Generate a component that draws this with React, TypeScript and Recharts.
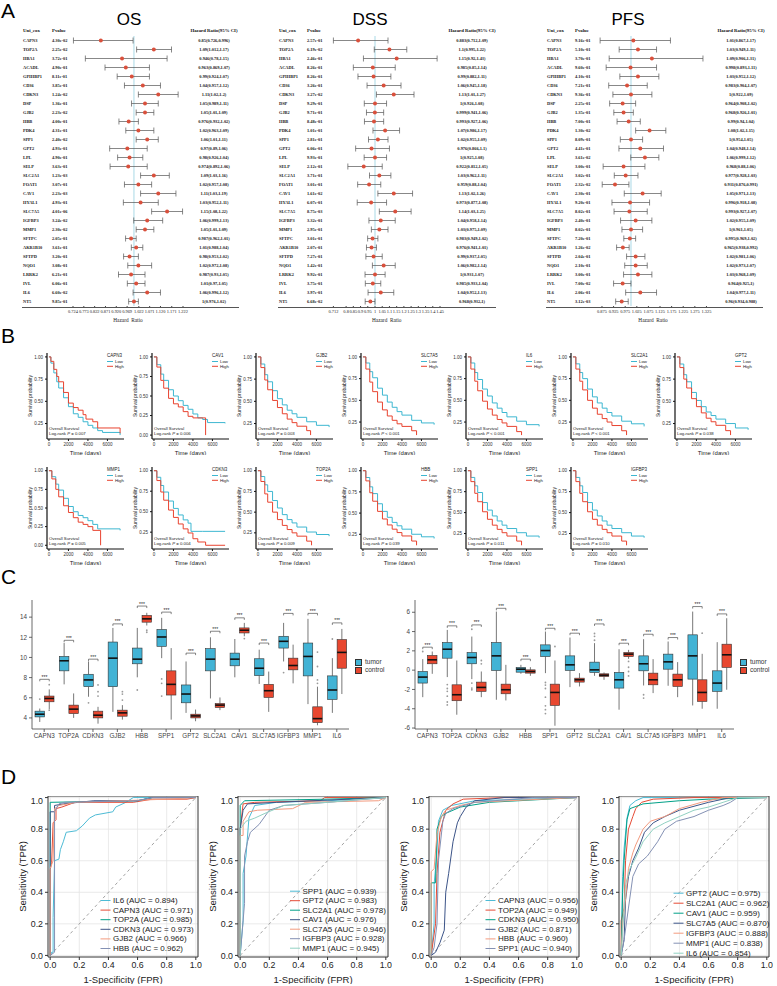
import {
  ComposedChart, LineChart, BarChart, Line, Bar, XAxis, YAxis, CartesianGrid,
  ReferenceLine, ReferenceArea, ErrorBar,
} from "recharts"

const SERIF = "'Liberation Serif', 'Times New Roman', serif"
const SANS = "'Liberation Sans', Arial, Helvetica, sans-serif"
const LOW_C = "#3db7d1"
const HIGH_C = "#e8432f"
const TUMOR_C = "#42b3d5"
const CONTROL_C = "#e8472f"
const NPG = ["#4dbbd5", "#e64b35", "#00a087", "#3c5488", "#f39b7f", "#8491b4", "#91d1c2"]

// ---------- A: forest plots ----------
const forestGenes = ["CAPN3", "TOP2A", "HBA1", "ACADL", "GPIHBP1", "CD36", "CDKN3", "DSP", "GJB2", "HBB", "PDK4", "SPP1", "GPT2", "LPL", "SELP", "SLC2A1", "FOAT1", "CAV1", "HYAL1", "SLC7A5", "IGFBP3", "MMP1", "SFTPC", "AKR1B10", "SFTPD", "NQO1", "LRRK2", "IVL", "IL6", "NT5"]

const osP = ["4.30e-02", "2.25e-02", "3.72e-01", "4.90e-01", "8.11e-01", "3.85e-01", "1.24e-02", "1.36e-01", "2.23e-02", "4.00e-01", "4.31e-01", "2.40e-02", "4.93e-01", "4.90e-01", "3.63e-01", "1.23e-03", "3.07e-01", "2.23e-03", "4.93e-01", "4.01e-06", "3.24e-02", "2.30e-02", "2.05e-01", "3.61e-01", "3.20e-01", "3.08e-01", "6.21e-01", "6.06e-01", "6.60e-02", "9.85e-01"]
const osHR = [0.85, 1.09, 0.946, 0.963, 0.99, 1.04, 1.11, 1.05, 1.05, 0.976, 1.02, 1.06, 0.97, 0.98, 0.974, 1.09, 1.02, 1.11, 1.03, 1.15, 1.06, 1.05, 0.987, 1.01, 0.98, 1.02, 0.987, 1.01, 1.06, 1]
const osLo = [0.726, 1.012, 0.78, 0.869, 0.924, 0.957, 1.02, 0.989, 1.01, 0.932, 0.963, 1.01, 0.89, 0.926, 0.892, 1.03, 0.957, 1.03, 0.952, 1.08, 0.999, 1.01, 0.962, 0.988, 0.953, 0.972, 0.93, 0.97, 0.996, 0.976]
const osHi = [0.996, 1.17, 1.15, 1.07, 1.07, 1.12, 1.2, 1.11, 1.09, 1.02, 1.09, 1.11, 1.06, 1.04, 1.06, 1.16, 1.08, 1.19, 1.11, 1.22, 1.13, 1.09, 1.01, 1.04, 1.02, 1.08, 1.05, 1.05, 1.12, 1.02]
const osTicks = [0.724, 0.773, 0.822, 0.871, 0.92, 0.969, 1.022, 1.071, 1.12, 1.171, 1.222]

const dssP = ["2.57e-01", "6.19e-02", "2.46e-01", "8.26e-01", "8.26e-01", "3.26e-01", "3.27e-02", "9.29e-01", "9.71e-01", "8.48e-01", "1.01e-01", "2.81e-01", "6.06e-01", "9.93e-01", "2.12e-01", "3.71e-01", "3.01e-01", "1.61e-02", "6.07e-01", "8.75e-03", "3.32e-01", "2.95e-01", "3.01e-01", "2.07e-01", "7.27e-01", "1.42e-01", "9.92e-01", "3.75e-01", "3.97e-01", "6.68e-02"]
const dssHR = [0.883, 1.1, 1.15, 0.985, 0.99, 1.06, 1.13, 1, 0.999, 0.993, 1.07, 1.02, 0.976, 1, 0.922, 1.03, 0.959, 1.13, 0.973, 1.14, 1.04, 1.03, 0.983, 0.976, 0.99, 1.06, 1, 0.985, 1.04, 0.968]
const dssLo = [0.712, 0.995, 0.92, 0.85, 0.882, 0.945, 1.01, 0.926, 0.941, 0.927, 0.986, 0.955, 0.866, 0.925, 0.812, 0.962, 0.88, 1.02, 0.877, 1.03, 0.958, 0.975, 0.949, 0.941, 0.937, 0.982, 0.931, 0.933, 0.952, 0.932]
const dssHi = [1.09, 1.22, 1.43, 1.14, 1.11, 1.18, 1.27, 1.08, 1.06, 1.06, 1.17, 1.09, 1.1, 1.08, 1.05, 1.11, 1.04, 1.26, 1.08, 1.25, 1.14, 1.09, 1.02, 1.01, 1.05, 1.14, 1.07, 1.04, 1.13, 1]
const dssTicks = [0.712, 0.8, 0.85, 0.9, 0.95, 1, 1.05, 1.1, 1.15, 1.2, 1.25, 1.3, 1.35, 1.4, 1.45]

const pfsP = ["9.16e-01", "5.10e-01", "3.70e-01", "9.60e-01", "4.10e-01", "7.21e-01", "9.36e-01", "2.25e-01", "1.35e-01", "7.00e-01", "1.30e-02", "8.09e-01", "4.41e-01", "3.61e-02", "3.00e-01", "3.02e-01", "2.32e-02", "2.30e-01", "9.20e-01", "8.02e-01", "2.40e-01", "8.02e-01", "7.20e-01", "1.26e-02", "2.04e-01", "2.10e-01", "3.00e-01", "7.00e-02", "2.06e-01", "3.12e-03"]
const pfsHR = [1.01, 1.03, 1.09, 0.998, 1.03, 0.983, 1, 0.964, 0.968, 0.99, 1.08, 1, 1.04, 1.06, 0.968, 0.977, 0.931, 1.05, 0.996, 0.993, 1.02, 1, 0.995, 0.965, 1.02, 1.02, 1.03, 0.964, 1.04, 0.96]
const pfsLo = [0.867, 0.949, 0.906, 0.893, 0.952, 0.904, 0.922, 0.908, 0.926, 0.94, 1.02, 0.954, 0.948, 0.999, 0.88, 0.928, 0.876, 0.971, 0.918, 0.927, 0.955, 0.961, 0.969, 0.938, 0.981, 0.973, 0.968, 0.925, 0.977, 0.934]
const pfsHi = [1.17, 1.11, 1.31, 1.11, 1.12, 1.07, 1.09, 1.02, 1.01, 1.04, 1.15, 1.05, 1.14, 1.12, 1.06, 1.03, 0.991, 1.13, 1.08, 1.07, 1.09, 1.05, 1.02, 0.992, 1.06, 1.07, 1.09, 1, 1.11, 0.988]
const pfsTicks = [0.875, 0.925, 0.975, 1.025, 1.075, 1.125, 1.175, 1.225, 1.275, 1.325]

// ---------- B: Kaplan-Meier ----------
const kmGenes = ["CAPN3", "CAV1", "GJB2", "SLC7A5", "IL6", "SLC2A1", "GPT2", "MMP1", "CDKN3", "TOP2A", "HBB", "SPP1", "IGFBP3"]
const kmPText = ["= 0.007", "= 0.006", "= 0.003", "< 0.001", "< 0.001", "< 0.001", "= 0.038", "= 0.005", "= 0.004", "= 0.009", "= 0.039", "= 0.011", "= 0.010"]
const kmLow = [
  [[0, 1], [200, 0.93], [500, 0.82], [800, 0.72], [1000, 0.65], [1500, 0.54], [2000, 0.44], [2500, 0.36], [3000, 0.32], [3500, 0.27], [4000, 0.23], [4500, 0.2], [5000, 0.17], [5500, 0.15], [7300, 0.12]],
  [[0, 1], [300, 0.9], [700, 0.78], [1000, 0.7], [1500, 0.58], [2000, 0.5], [2500, 0.44], [3000, 0.38], [3500, 0.33], [4000, 0.27], [4500, 0.22], [5000, 0.2], [5500, 0.16], [7300, 0.15]],
  [[0, 1], [300, 0.92], [700, 0.8], [1000, 0.72], [1500, 0.62], [2000, 0.53], [2500, 0.46], [3000, 0.4], [3500, 0.36], [4000, 0.32], [5000, 0.27], [6000, 0.23], [7300, 0.21]],
  [[0, 1], [300, 0.93], [700, 0.83], [1000, 0.76], [1500, 0.64], [2000, 0.56], [2500, 0.48], [3000, 0.42], [3500, 0.37], [4000, 0.33], [5000, 0.27], [6000, 0.24], [7300, 0.22]],
  [[0, 1], [300, 0.93], [700, 0.82], [1000, 0.74], [1500, 0.63], [2000, 0.55], [2500, 0.47], [3000, 0.41], [3500, 0.36], [4000, 0.31], [5000, 0.26], [6000, 0.22], [7300, 0.2]],
  [[0, 1], [300, 0.92], [700, 0.82], [1000, 0.75], [1500, 0.63], [2000, 0.54], [2500, 0.47], [3000, 0.41], [3500, 0.36], [4000, 0.32], [5000, 0.26], [6000, 0.23], [7300, 0.2]],
  [[0, 1], [300, 0.92], [700, 0.8], [1000, 0.72], [1500, 0.6], [2000, 0.51], [2500, 0.44], [3000, 0.38], [3500, 0.34], [4000, 0.3], [5000, 0.25], [6000, 0.2], [7300, 0.18]],
  [[0, 1], [300, 0.92], [700, 0.82], [1000, 0.74], [1500, 0.63], [2000, 0.52], [2500, 0.45], [3000, 0.4], [3500, 0.37], [4000, 0.33], [4500, 0.28], [5000, 0.22], [7300, 0.2]],
  [[0, 1], [300, 0.92], [700, 0.82], [1000, 0.74], [1500, 0.63], [2000, 0.54], [2500, 0.46], [3000, 0.4], [3500, 0.36], [3800, 0.26], [5000, 0.26], [7300, 0.26]],
  [[0, 1], [300, 0.93], [700, 0.83], [1000, 0.75], [1500, 0.64], [2000, 0.55], [2500, 0.47], [3000, 0.41], [3500, 0.37], [4000, 0.32], [5000, 0.26], [6000, 0.23], [7300, 0.21]],
  [[0, 1], [300, 0.92], [700, 0.81], [1000, 0.73], [1500, 0.61], [2000, 0.52], [2500, 0.45], [3000, 0.39], [3500, 0.35], [4000, 0.31], [5000, 0.25], [6000, 0.22], [7300, 0.2]],
  [[0, 1], [300, 0.92], [700, 0.82], [1000, 0.74], [1500, 0.62], [2000, 0.53], [2500, 0.46], [3000, 0.4], [3500, 0.35], [4000, 0.31], [5000, 0.26], [6000, 0.22], [7300, 0.2]],
  [[0, 1], [300, 0.92], [700, 0.82], [1000, 0.74], [1500, 0.62], [2000, 0.53], [2500, 0.46], [3000, 0.4], [3500, 0.35], [4000, 0.31], [5000, 0.26], [6000, 0.22], [7300, 0.2]],
]
const kmHigh = [
  [[0, 1], [200, 0.95], [500, 0.86], [800, 0.78], [1000, 0.72], [1500, 0.6], [2000, 0.48], [2500, 0.43], [3000, 0.4], [3500, 0.35], [3800, 0.3], [4500, 0.27], [5000, 0.2], [7300, 0.14]],
  [[0, 1], [300, 0.87], [700, 0.7], [1000, 0.6], [1500, 0.47], [2000, 0.4], [2500, 0.36], [3000, 0.3], [3500, 0.24], [4000, 0.22], [5300, 0]],
  [[0, 1], [300, 0.88], [700, 0.74], [1000, 0.63], [1500, 0.51], [2000, 0.43], [2500, 0.36], [3000, 0.3], [3500, 0.26], [4000, 0.22], [5000, 0.17], [5400, 0.12]],
  [[0, 1], [300, 0.86], [700, 0.71], [1000, 0.6], [1500, 0.48], [2000, 0.39], [2500, 0.32], [3000, 0.27], [3500, 0.23], [4000, 0.2], [5000, 0.15], [5500, 0.1]],
  [[0, 1], [300, 0.86], [700, 0.72], [1000, 0.61], [1500, 0.49], [2000, 0.4], [2500, 0.33], [3000, 0.28], [3500, 0.24], [4000, 0.2], [5000, 0.14], [5500, 0.1]],
  [[0, 1], [300, 0.86], [700, 0.72], [1000, 0.62], [1500, 0.5], [2000, 0.41], [2500, 0.34], [3000, 0.29], [3500, 0.25], [4000, 0.21], [5000, 0.15], [5500, 0.1]],
  [[0, 1], [300, 0.88], [700, 0.75], [1000, 0.65], [1500, 0.53], [2000, 0.44], [2500, 0.37], [3000, 0.31], [3500, 0.27], [4000, 0.23], [5000, 0.17], [5500, 0.12]],
  [[0, 1], [300, 0.89], [700, 0.75], [1000, 0.65], [1500, 0.53], [2000, 0.44], [2500, 0.37], [3000, 0.31], [3500, 0.28], [4000, 0.25], [4500, 0.2], [5300, 0]],
  [[0, 1], [300, 0.88], [700, 0.74], [1000, 0.64], [1500, 0.52], [2000, 0.43], [2500, 0.35], [3000, 0.29], [3500, 0.24], [4000, 0.17], [4500, 0.13], [5300, 0.09], [7300, 0.09]],
  [[0, 1], [300, 0.87], [700, 0.72], [1000, 0.62], [1500, 0.5], [2000, 0.41], [2500, 0.34], [3000, 0.29], [3500, 0.25], [4000, 0.21], [5000, 0.15], [5500, 0.1]],
  [[0, 1], [300, 0.88], [700, 0.74], [1000, 0.64], [1500, 0.52], [2000, 0.43], [2500, 0.36], [3000, 0.31], [3500, 0.27], [4000, 0.23], [5000, 0.17], [5500, 0.12]],
  [[0, 1], [300, 0.87], [700, 0.73], [1000, 0.63], [1500, 0.51], [2000, 0.42], [2500, 0.35], [3000, 0.3], [3500, 0.26], [4000, 0.22], [5000, 0.16], [5500, 0.11]],
  [[0, 1], [300, 0.87], [700, 0.73], [1000, 0.63], [1500, 0.51], [2000, 0.42], [2500, 0.35], [3000, 0.3], [3500, 0.26], [4000, 0.22], [5000, 0.16], [5500, 0.11]],
]
const kmTimeTicks = [0, 2000, 4000, 6000]

// ---------- C: box plots ----------
const boxGenes = ["CAPN3", "TOP2A", "CDKN3", "GJB2", "HBB", "SPP1", "GPT2", "SLC2A1", "CAV1", "SLC7A5", "IGFBP3", "MMP1", "IL6"]
// [min, q1, median, q3, max]
const leftTumor = [[3.6, 4.1, 4.37, 4.67, 4.93], [7.33, 8.67, 9.67, 10.1, 11.43], [6.1, 7.1, 7.77, 8.33, 9.6], [4.6, 7.1, 9.93, 11.53, 12.93], [8.03, 9.37, 9.83, 10.93, 12.93], [9.93, 11.1, 12.03, 12.77, 13.93], [4.5, 5.5, 6.37, 7.27, 9.6], [5.93, 8.67, 9.83, 10.87, 12], [8.03, 9.17, 9.83, 10.43, 11.83], [7.37, 8.2, 8.93, 9.87, 10.77], [9.6, 10.93, 11.6, 12.1, 13.43], [5.37, 8.17, 10.1, 11.43, 13.83], [4.5, 5.83, 6.77, 8.17, 9.93]]
const leftTumorOut = [[5.87], [], [5.5], [], [6.77], [7.87, 7.43, 6.17], [], [], [], [], [8.5], [], [11.83]]
const leftControl = [[4.87, 5.6, 5.93, 6.17, 6.83], [4, 4.43, 4.87, 5.27, 6.43], [3.43, 4, 4.27, 4.67, 5.1], [3.83, 4.17, 4.5, 4.77, 5.27], [13.17, 13.5, 13.83, 14.17, 14.43], [3.83, 6.27, 7.33, 8.67, 10.93], [3.67, 4, 4.2, 4.37, 4.83], [4.77, 5.03, 5.27, 5.43, 6.03], [12.1, 12.43, 12.7, 12.93, 13.43], [4.6, 6.03, 6.7, 7.33, 8.6], [7.43, 8.77, 9.2, 9.93, 11.27], [3.27, 3.53, 3.93, 5.1, 7.1], [6.37, 8.93, 10.5, 11.77, 12.83]]
const leftControlOut = [[7.3, 4.77], [], [7.27, 6.17, 6.6], [6.6, 6.37, 5.77], [12.7, 12.5], [], [], [], [11.87], [], [], [10.53, 9.1, 7.77, 7.43], []]
const leftSig = [7.83, 11.7, 9.83, 13.33, 15.1, 14.5, 10.43, 12.6, 13.93, 11.43, 14.37, 14.37, 13.43]
const leftTicks = [4, 6, 8, 10, 12, 14]

const rightTumor = [[-2.8, -1.34, -0.72, -0.14, 1.14], [-0.72, 1.24, 2.17, 2.86, 4.17], [-0.93, 0.66, 1.31, 1.83, 3.48], [-3.07, -0.03, 1.48, 2.86, 6.07], [-0.38, -0.21, 0.1, 0.28, 0.55], [-0.31, 1.41, 2.03, 2.62, 4], [-1.76, -0.03, 0.55, 1.48, 3.38], [-0.59, -0.24, 0.03, 0.83, 2.8], [-4.1, -1.86, -1, -0.24, 2.17], [-1.59, -0.07, 0.66, 1.48, 3.21], [-1.62, 0.1, 0.86, 1.66, 2.97], [-3.66, -0.93, 1.48, 3.66, 6.07], [-4, -2.2, -1.34, -0.07, 2.9]]
const rightTumorOut = [[1.93], [-1.5, -1.9, -2.2, -2.7, -3.3, -3.6], [4.24, -1.34, -1.86, -2.03], [], [], [-1.28, -1.55, -1.9, -2.8, -3.7, -4.1, -4.5], [], [3.8, 3.5, 3.1], [], [-2.55, -2.9], [], [], []]
const rightControl = [[-0.38, 0.66, 1.07, 1.52, 1.93], [-4.62, -3.17, -2.55, -1.52, 1], [-2.8, -2.2, -1.79, -1.24, -0.14], [-3.14, -2.45, -2.03, -1.45, 0.55], [-0.59, -0.31, -0.14, 0.03, 0.31], [-5.76, -3.66, -2.31, -1.45, 1], [-1.69, -1.24, -1, -0.83, -0.31], [-1, -0.66, -0.52, -0.38, -0.24], [1.17, 1.41, 1.66, 1.83, 2.1], [-2.38, -1.52, -1, -0.31, 1.14], [-2.8, -1.69, -1, -0.41, 0.83], [-4, -3.24, -2.31, -1, 1.69], [-2.03, 0.28, 1.59, 2.69, 5.38]]
const rightControlOut = [[], [], [1, 0.66], [], [], [2.45], [], [], [0.9, 0.3, -0.14, -0.6], [], [], [3.83], []]
const rightSig = [2.38, 4.59, 4.69, 6.41, 1.14, 4.34, 3.83, 4.79, 2.79, 3.72, 3.38, 6.59, 5.83]
const rightTicks = [-6, -4, -2, 0, 2, 4, 6]

// ---------- D: ROC ----------
const rocTicks = [0, 0.2, 0.4, 0.6, 0.8, 1]
const rocGrid = [0, 0.1, 0.2, 0.3, 0.4, 0.5, 0.6, 0.7, 0.8, 0.9, 1]
const roc1Names = ["IL6", "CAPN3", "TOP2A", "CDKN3", "GJB2", "HBB"]
const roc1Auc = ["0.894", "0.971", "0.985", "0.973", "0.966", "0.962"]
const roc1Pts = [
  [[0, 0], [0.01, 0.02], [0.02, 0.02], [0.02, 0.24], [0.03, 0.6], [0.06, 0.61], [0.07, 0.67], [0.09, 0.72], [0.11, 0.78], [0.18, 0.79], [0.22, 0.82], [0.27, 0.87], [0.31, 0.89], [0.43, 0.91], [0.45, 0.94], [0.52, 0.97], [0.57, 1], [1, 1]],
  [[0, 0], [0, 0.54], [0.01, 0.59], [0.02, 0.84], [0.04, 0.86], [0.04, 0.93], [0.08, 0.94], [0.17, 0.97], [0.57, 0.97], [0.7, 0.99], [0.94, 0.99], [1, 1]],
  [[0, 0], [0, 0.97], [0.6, 0.98], [0.7, 1], [1, 1]],
  [[0, 0], [0, 0.91], [0.03, 0.91], [0.03, 0.95], [0.09, 0.96], [0.3, 0.98], [0.6, 0.98], [0.7, 1], [1, 1]],
  [[0, 0], [0, 0.55], [0.02, 0.6], [0.03, 0.93], [0.06, 0.95], [0.18, 0.97], [0.8, 0.99], [1, 1]],
  [[0, 0], [0.03, 0.02], [0.03, 0.91], [0.06, 0.96], [0.1, 0.97], [0.6, 0.98], [0.7, 1], [1, 1]],
]
const roc2Names = ["SPP1", "GPT2", "SLC2A1", "CAV1", "SLC7A5", "IGFBP3", "MMP1"]
const roc2Auc = ["0.939", "0.983", "0.978", "0.976", "0.946", "0.928", "0.945"]
const roc2Pts = [
  [[0, 0], [0.02, 0.22], [0.02, 0.52], [0.04, 0.63], [0.06, 0.87], [0.1, 0.95], [0.25, 0.97], [0.6, 0.98], [1, 1]],
  [[0, 0], [0, 0.8], [0.02, 0.96], [0.1, 0.97], [0.55, 0.98], [0.58, 1], [1, 1]],
  [[0, 0], [0, 0.95], [0.03, 0.98], [0.6, 0.99], [1, 1]],
  [[0, 0], [0, 0.8], [0.02, 0.92], [0.05, 0.96], [0.25, 0.97], [1, 1]],
  [[0, 0], [0, 0.76], [0.02, 0.76], [0.02, 0.85], [0.06, 0.91], [0.12, 0.92], [0.36, 0.93], [0.45, 0.97], [0.95, 0.98], [1, 1]],
  [[0, 0], [0.03, 0.33], [0.03, 0.63], [0.05, 0.72], [0.07, 0.78], [0.13, 0.83], [0.2, 0.92], [0.3, 0.95], [0.6, 0.97], [1, 1]],
  [[0, 0], [0, 0.8], [0.04, 0.85], [0.1, 0.87], [0.17, 0.9], [0.3, 0.95], [0.6, 0.97], [0.85, 0.99], [1, 1]],
]
const roc3Names = ["CAPN3", "TOP2A", "CDKN3", "GJB2", "HBB", "SPP1"]
const roc3Auc = ["0.956", "0.949", "0.950", "0.871", "0.960", "0.940"]
const roc3Pts = [
  [[0, 0], [0.02, 0.2], [0.02, 0.45], [0.04, 0.66], [0.05, 0.85], [0.08, 0.92], [0.14, 0.95], [0.3, 0.98], [1, 1]],
  [[0, 0], [0.03, 0.2], [0.04, 0.52], [0.06, 0.78], [0.1, 0.92], [0.15, 0.96], [0.22, 0.99], [0.5, 1], [1, 1]],
  [[0, 0], [0, 0.46], [0.03, 0.46], [0.04, 0.8], [0.07, 0.88], [0.1, 0.9], [0.2, 0.94], [0.4, 0.97], [1, 1]],
  [[0, 0], [0.03, 0.02], [0.06, 0.08], [0.09, 0.16], [0.1, 0.4], [0.12, 0.52], [0.15, 0.72], [0.18, 0.84], [0.2, 0.88], [0.24, 0.94], [0.3, 0.98], [0.5, 1], [1, 1]],
  [[0, 0], [0, 0.53], [0.02, 0.55], [0.04, 0.77], [0.07, 0.88], [0.1, 0.92], [0.2, 0.95], [0.3, 0.97], [1, 1]],
  [[0, 0], [0.02, 0.05], [0.04, 0.2], [0.05, 0.6], [0.08, 0.85], [0.1, 0.9], [0.15, 0.93], [0.3, 0.97], [0.7, 1], [1, 1]],
]
const roc4Names = ["GPT2", "SLC2A1", "CAV1", "SLC7A5", "IGFBP3", "MMP1", "IL6"]
const roc4Auc = ["0.975", "0.962", "0.959", "0.870", "0.888", "0.838", "0.854"]
const roc4Pts = [
  [[0, 0], [0.01, 0.5], [0.02, 0.68], [0.04, 0.87], [0.06, 0.95], [0.1, 0.98], [0.15, 1], [1, 1]],
  [[0, 0], [0, 0.22], [0.02, 0.3], [0.03, 0.6], [0.05, 0.8], [0.08, 0.88], [0.1, 0.93], [0.14, 0.97], [0.22, 0.99], [0.5, 1], [1, 1]],
  [[0, 0], [0.01, 0.4], [0.02, 0.6], [0.04, 0.86], [0.06, 0.93], [0.15, 0.96], [0.4, 0.98], [0.6, 0.99], [1, 1]],
  [[0, 0], [0.02, 0.1], [0.03, 0.35], [0.05, 0.5], [0.08, 0.6], [0.12, 0.68], [0.16, 0.78], [0.22, 0.84], [0.3, 0.88], [0.4, 0.92], [0.6, 0.97], [0.75, 1], [1, 1]],
  [[0, 0], [0.01, 0.2], [0.03, 0.36], [0.05, 0.55], [0.08, 0.65], [0.1, 0.7], [0.15, 0.8], [0.2, 0.85], [0.3, 0.88], [0.4, 0.93], [0.55, 0.97], [0.7, 1], [1, 1]],
  [[0, 0], [0.02, 0.1], [0.05, 0.3], [0.08, 0.5], [0.12, 0.58], [0.18, 0.63], [0.25, 0.72], [0.3, 0.8], [0.38, 0.85], [0.5, 0.88], [0.6, 0.92], [0.7, 0.95], [0.75, 0.97], [0.8, 1], [1, 1]],
  [[0, 0], [0.02, 0.3], [0.03, 0.45], [0.06, 0.55], [0.1, 0.62], [0.15, 0.72], [0.22, 0.8], [0.3, 0.84], [0.4, 0.88], [0.5, 0.92], [0.6, 0.94], [0.7, 0.97], [0.8, 1], [1, 1]],
]

// ---------------------------------------------------------------
const FOREST_TOP = 35.5
const FOREST_ROWS_H = 270

function ForestPlot(props: any) {
  const { title, titleX, geneX, pX, plotL, plotR, ciX, right, domain, ticks, fmt, p, hr, lo, hi } = props
  const chartL = geneX - 2
  const data = forestGenes.map((g, i) => ({
    gene: g, p: p[i], hr: hr[i], err: [hr[i] - lo[i], hi[i] - hr[i]], ci: `${hr[i]}(${lo[i]},${hi[i]})`,
  }))
  const find = (g: string) => data.find((d) => d.gene === g)
  const txt = { fontSize: 4.4, fill: "#222", fontFamily: SERIF, fontWeight: 700 }
  const leftTick = (pr: any) => {
    const d = find(pr.payload.value)
    return (
      <g>
        <text x={2} y={pr.y} dy={1.5} {...txt}>{pr.payload.value}</text>
        <text x={pX - chartL} y={pr.y} dy={1.5} {...txt}>{d ? d.p : ""}</text>
      </g>
    )
  }
  const rightTick = (pr: any) => {
    const d = find(pr.payload.value)
    return <text x={ciX - chartL} y={pr.y} dy={1.5} textAnchor="middle" {...txt}>{d ? d.ci : ""}</text>
  }
  const head = { position: "absolute" as const, top: 28, fontSize: 4.8, fontWeight: 700, fontFamily: SERIF, color: "#111", lineHeight: "6px", whiteSpace: "nowrap" as const }
  return (
    <>
      <div style={{ position: "absolute", left: titleX - 40, width: 80, top: 10, textAlign: "center", fontSize: 17, lineHeight: "20px" }}>{title}</div>
      <div style={{ ...head, left: geneX }}>Uni_cox</div>
      <div style={{ ...head, left: pX }}>Pvalue</div>
      <div style={{ ...head, left: ciX - 40, width: 80, textAlign: "center" }}>Hazard Ratio(95% CI)</div>
      <div style={{ position: "absolute", left: chartL, top: FOREST_TOP }}>
        <ComposedChart layout="vertical" width={right - chartL} height={FOREST_ROWS_H + 16} data={data} margin={{ top: 0, right: 0, bottom: 0, left: 0 }}>
          <XAxis type="number" domain={domain} ticks={ticks} interval={0} allowDataOverflow tickFormatter={fmt} height={16} tickSize={2}
            tick={{ fontSize: 4.4, fill: "#222", fontFamily: SERIF }} tickLine={{ stroke: "#444" }} axisLine={false}
            label={{ value: "Hazard_Ratio", position: "insideBottom", offset: 0, fontSize: 5.3, fill: "#222", fontFamily: SERIF }} />
          <YAxis yAxisId="L" type="category" scale="band" dataKey="gene" width={plotL - chartL} axisLine={false} tickLine={false} tick={leftTick} interval={0} />
          <YAxis yAxisId="R" orientation="right" type="category" scale="band" dataKey="gene" width={right - plotR} axisLine={false} tickLine={false} tick={rightTick} interval={0} />
          <ReferenceLine yAxisId="L" x={1} stroke="#a9d9e6" strokeWidth={1} />
          <Line yAxisId="L" dataKey="hr" stroke="none" isAnimationActive={false}
            dot={(pr: any) => <circle key={pr.index} cx={pr.cx} cy={pr.cy} r={2} fill="#d9503c" />}>
            <ErrorBar dataKey="err" direction="x" width={3} stroke="#555" strokeWidth={0.7} />
          </Line>
        </ComposedChart>
      </div>
      <div style={{ position: "absolute", left: geneX - 1, width: right - geneX, top: FOREST_TOP + FOREST_ROWS_H + 1, height: 0, borderTop: "1px solid #555" }} />
    </>
  )
}

function KMPlot({ x0, top, bottom, gene, low, high, p }: any) {
  const W = 77
  const YW = 26
  const h = bottom - top
  const vals = [...low, ...high].map((d: number[]) => d[1])
  const mn = Math.min(...vals)
  const pad = 0.05 * (1 - mn)
  const yTicks = [0, 0.25, 0.5, 0.75, 1].filter((v) => v >= mn - pad)
  const lowData = low.map((d: number[]) => ({ t: d[0], s: d[1] }))
  const highData = high.map((d: number[]) => ({ t: d[0], s: d[1] }))
  const ax = { stroke: "#111", strokeWidth: 1.2 }
  return (
    <div style={{ position: "absolute", left: x0 - YW, top }}>
      <LineChart width={YW + W + 2} height={h + 16} margin={{ top: 0, right: 2, bottom: 0, left: 0 }}>
        <XAxis type="number" dataKey="t" domain={[-200, 7700]} ticks={kmTimeTicks} allowDataOverflow height={16} tickSize={2}
          tick={{ fontSize: 4.5, fill: "#333" }} axisLine={ax} tickLine={{ stroke: "#111" }}
          label={{ value: "Time (days)", position: "insideBottom", offset: 0, fontSize: 6, fill: "#222" }} />
        <YAxis type="number" domain={[mn - pad, 1 + pad]} ticks={yTicks} allowDataOverflow width={YW} tickSize={2}
          tickFormatter={(v: number) => v.toFixed(2)} tick={{ fontSize: 4.5, fill: "#333" }} axisLine={ax} tickLine={{ stroke: "#111" }} />
        <Line data={lowData} dataKey="s" type="stepAfter" stroke={LOW_C} strokeWidth={1} dot={false} isAnimationActive={false} />
        <Line data={highData} dataKey="s" type="stepAfter" stroke={HIGH_C} strokeWidth={1} dot={false} isAnimationActive={false} />
      </LineChart>
      <svg style={{ position: "absolute", left: 0, top: 0, overflow: "visible", pointerEvents: "none" }} width={YW + W} height={h}>
        <text x={10.5} y={h / 2} transform={`rotate(-90 10.5 ${h / 2})`} textAnchor="middle" fontSize={5} fill="#222">Survival probability</text>
        <text x={YW + 60} y={3.5} fontSize={4.5} fill="#222">{gene}</text>
        <line x1={YW + 60} x2={YW + 66} y1={8.5} y2={8.5} stroke={LOW_C} strokeWidth={1} />
        <text x={YW + 68} y={10.2} fontSize={4.3} fill="#222">Low</text>
        <line x1={YW + 60} x2={YW + 66} y1={13.3} y2={13.3} stroke={HIGH_C} strokeWidth={1} />
        <text x={YW + 68} y={15} fontSize={4.3} fill="#222">High</text>
        <text x={YW + 2} y={h - 9} fontSize={4.3} fill="#222">Overall Survival</text>
        <text x={YW + 2} y={h - 4} fontSize={4.3} fill="#222">Log-rank <tspan fontStyle="italic">P</tspan> {p}</text>
      </svg>
    </div>
  )
}

function makeBoxShape(kind: "t" | "c", color: string) {
  return (props: any) => {
    const { x, y, width, height, payload } = props
    const st = kind === "t" ? payload.t : payload.c
    const out = kind === "t" ? payload.tO : payload.cO
    const top = Math.min(y, y + height)
    const bot = Math.max(y, y + height)
    const span = st[4] - st[0] || 1
    const py = (v: number) => top + ((st[4] - v) / span) * (bot - top)
    const cx = x + width / 2
    return (
      <g>
        <line x1={cx} x2={cx} y1={py(st[4])} y2={py(st[3])} stroke="#555" strokeWidth={0.8} />
        <line x1={cx} x2={cx} y1={py(st[1])} y2={py(st[0])} stroke="#555" strokeWidth={0.8} />
        <rect x={x} y={py(st[3])} width={width} height={Math.max(0.8, py(st[1]) - py(st[3]))} fill={color} stroke="#333" strokeWidth={0.6} />
        <line x1={x} x2={x + width} y1={py(st[2])} y2={py(st[2])} stroke="#111" strokeWidth={1.6} />
        {out.map((v: number, i: number) => <circle key={i} cx={cx} cy={py(v)} r={0.9} fill="#9a9a9a" />)}
        {kind === "c" && (
          <g>
            <path d={`M${x - width / 2},${py(payload.sig) + 2} V${py(payload.sig)} H${cx} V${py(payload.sig) + 2}`} fill="none" stroke="#333" strokeWidth={0.6} />
            <text x={x} y={py(payload.sig) - 0.5} textAnchor="middle" fontSize={5} fill="#222">***</text>
          </g>
        )}
      </g>
    )
  }
}
const tumorShape = makeBoxShape("t", TUMOR_C)
const controlShape = makeBoxShape("c", CONTROL_C)

function BoxPlot({ left, plotL, plotR, domain, ticks, tumor, tumorOut, control, controlOut, sig, legendX }: any) {
  const data = boxGenes.map((g, i) => ({
    gene: g, tR: [tumor[i][0], tumor[i][4]], cR: [control[i][0], control[i][4]],
    t: tumor[i], c: control[i], tO: tumorOut[i], cO: controlOut[i], sig: sig[i],
  }))
  const yw = plotL - left
  const ax = { stroke: "#444", strokeWidth: 0.8 }
  return (
    <>
      <div style={{ position: "absolute", left, top: 600 }}>
        <BarChart width={plotR - left + 1} height={129 + 14} data={data} barGap={0} barSize={9.5} margin={{ top: 0, right: 1, bottom: 0, left: 0 }}>
          <XAxis dataKey="gene" interval={0} height={14} tickSize={3} tick={{ fontSize: 6.3, fill: "#444" }} axisLine={ax} tickLine={ax} />
          <YAxis type="number" domain={domain} ticks={ticks} allowDataOverflow width={yw} tickSize={3} tick={{ fontSize: 6.3, fill: "#444" }} axisLine={ax} tickLine={ax} />
          <Bar dataKey="tR" shape={tumorShape} isAnimationActive={false} />
          <Bar dataKey="cR" shape={controlShape} isAnimationActive={false} />
        </BarChart>
      </div>
      <div style={{ position: "absolute", left: legendX, top: 658, fontSize: 6.5, color: "#333", lineHeight: "7.5px" }}>
        <div><span style={{ display: "inline-block", width: 5, height: 5, background: TUMOR_C, border: "0.6px solid #333", marginRight: 3, verticalAlign: "middle" }} />tumor</div>
        <div><span style={{ display: "inline-block", width: 5, height: 5, background: CONTROL_C, border: "0.6px solid #333", marginRight: 3, verticalAlign: "middle" }} />control</div>
      </div>
    </>
  )
}

function ROCPlot({ left, top, names, auc, pts, legX, legY, legDy }: any) {
  const YW = 34
  const FW = 150
  const FH = 161
  return (
    <div style={{ position: "absolute", left: left - YW, top }}>
      <LineChart width={YW + FW + 4} height={FH + 27} margin={{ top: 0, right: 4, bottom: 0, left: 0 }}>
        <CartesianGrid stroke="#e4e4e4" strokeWidth={0.8} horizontalValues={rocGrid} verticalValues={rocGrid} />
        <XAxis type="number" dataKey="x" domain={[-0.015, 1.015]} ticks={rocTicks} allowDataOverflow height={27} tickSize={3}
          tickFormatter={(v: number) => v.toFixed(1)} tick={{ fontSize: 8.8, fill: "#222" }} axisLine={false} tickLine={{ stroke: "#333" }}
          label={{ value: "1-Specificity (FPR)", position: "insideBottom", offset: 1, fontSize: 9.5, fill: "#222" }} />
        <YAxis type="number" domain={[-0.01, 1.01]} ticks={rocTicks} allowDataOverflow width={YW} tickSize={3}
          tickFormatter={(v: number) => v.toFixed(1)} tick={{ fontSize: 8.8, fill: "#222" }} axisLine={false} tickLine={{ stroke: "#333" }} />
        <ReferenceLine segment={[{ x: 0, y: 0 }, { x: 1, y: 1 }]} stroke="#8c8c8c" strokeDasharray="3 3" strokeWidth={0.8} />
        {pts.map((p: number[][], i: number) => (
          <Line key={names[i]} data={p.map((d) => ({ x: d[0], y: d[1] }))} dataKey="y" type="linear" stroke={NPG[i]} strokeWidth={1} dot={false} isAnimationActive={false} />
        ))}
        <ReferenceArea x1={-0.015} x2={1.015} y1={-0.01} y2={1.01} fill="none" stroke="#333" strokeWidth={1} ifOverflow="visible" />
      </LineChart>
      <svg style={{ position: "absolute", left: 0, top: 0, overflow: "visible", pointerEvents: "none" }} width={YW + FW} height={FH}>
        <text x={YW - 26} y={FH / 2} transform={`rotate(-90 ${YW - 26} ${FH / 2})`} textAnchor="middle" dominantBaseline="central" fontSize={9.5} fill="#222">Sensitivity (TPR)</text>
        {names.map((n: string, i: number) => (
          <g key={n}>
            <line x1={YW + legX} x2={YW + legX + 10} y1={legY + i * legDy} y2={legY + i * legDy} stroke={NPG[i]} strokeWidth={1} />
            <text x={YW + legX + 12.5} y={legY + i * legDy} dominantBaseline="central" fontSize={8} fill="#222">{`${n} (AUC = ${auc[i]})`}</text>
          </g>
        ))}
      </svg>
    </div>
  )
}

const panelLabel = (ch: string, top: number) => (
  <div style={{ position: "absolute", left: 1, top, fontSize: 21, lineHeight: "22px" }}>{ch}</div>
)

export default function App() {
  const f3 = (v: number) => v.toFixed(3)
  const fg = (v: number) => String(v)
  const kmX = [0, 1, 2, 3, 4, 5, 6].map((i) => 47 + i * 104.7)
  return (
    <div style={{ position: "absolute", left: 0, top: 0, width: 777, height: 986, background: "#fff", fontFamily: SANS, overflow: "hidden" }}>
      {panelLabel("A", 0)}
      {panelLabel("B", 325)}
      {panelLabel("C", 566)}
      {panelLabel("D", 766)}

      <ForestPlot title="OS" titleX={129} geneX={23} pX={52} plotL={73} plotR={183} ciX={214} right={240}
        domain={[0.724, 1.222]} ticks={osTicks} fmt={f3} p={osP} hr={osHR} lo={osLo} hi={osHi} />
      <ForestPlot title="DSS" titleX={370} geneX={279} pX={307} plotL={333.4} plotR={440} ciX={472} right={497}
        domain={[0.712, 1.45]} ticks={dssTicks} fmt={fg} p={dssP} hr={dssHR} lo={dssLo} hi={dssHi} />
      <ForestPlot title="PFS" titleX={628} geneX={547} pX={575} plotL={598.5} plotR={707.6} ciX={741} right={764}
        domain={[0.86, 1.33]} ticks={pfsTicks} fmt={f3} p={pfsP} hr={pfsHR} lo={pfsLo} hi={pfsHi} />

      {kmGenes.map((g, i) => {
        const row = i < 7 ? 0 : 1
        const col = row === 0 ? i : i - 7
        return (
          <KMPlot key={g} x0={kmX[col]} top={row === 0 ? 353 : 467} bottom={row === 0 ? 439 : 549}
            gene={g} low={kmLow[i]} high={kmHigh[i]} p={kmPText[i]} />
        )
      })}

      <BoxPlot left={6} plotL={32} plotR={349} domain={[2.9, 15.7]} ticks={leftTicks} tumor={leftTumor} tumorOut={leftTumorOut}
        control={leftControl} controlOut={leftControlOut} sig={leftSig} legendX={355} />
      <BoxPlot left={390} plotL={415} plotR={734} domain={[-6.1, 7.27]} ticks={rightTicks} tumor={rightTumor} tumorOut={rightTumorOut}
        control={rightControl} controlOut={rightControlOut} sig={rightSig} legendX={740} />

      <ROCPlot left={47.5} top={795.5} names={roc1Names} auc={roc1Auc} pts={roc1Pts} legX={52.5} legY={104.5} legDy={9.6} />
      <ROCPlot left={238} top={795.5} names={roc2Names} auc={roc2Auc} pts={roc2Pts} legX={52} legY={95.2} legDy={9.5} />
      <ROCPlot left={428.5} top={795.5} names={roc3Names} auc={roc3Auc} pts={roc3Pts} legX={56.5} legY={104.5} legDy={9.6} />
      <ROCPlot left={618.5} top={795.5} names={roc4Names} auc={roc4Auc} pts={roc4Pts} legX={54.5} legY={97.2} legDy={10} />
    </div>
  )
}
